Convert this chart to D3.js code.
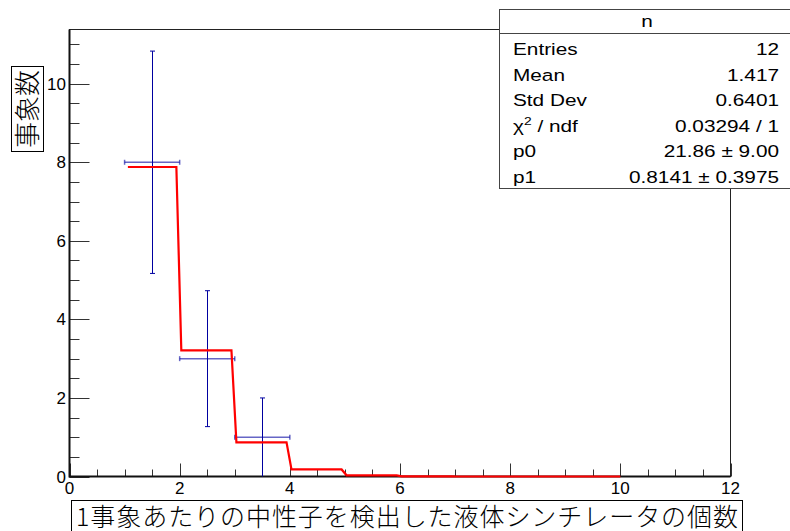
<!DOCTYPE html>
<html>
<head>
<meta charset="utf-8">
<script src="https://cdn.jsdelivr.net/npm/d3@7"></script>
<style>
  body { margin: 0; background: #fff; }
  svg { display: block; }
  text { font-family: "Liberation Sans", Arial, sans-serif; fill: #000; }
  .jp { font-family: "Noto Sans CJK JP", sans-serif; font-weight: 300; }
</style>
</head>
<body>
<svg id="chart" width="790" height="531"></svg>
<script>
// Histogram: bin centres, counts, errors (sqrt N)
const binCenters = [1.5, 2.5, 3.5];
const counts = [8, 3, 1];
const errors = [2.83, 1.73, 1.0];
const binHalfWidth = 0.5;

// Fit curve levels, one per unit step from x=1 to x=10
const fitStarts = [1, 2, 3, 4, 5, 6, 7, 8, 9];
const fitLevels = [7.88, 3.21, 0.87, 0.18, 0.03, 0.005, 0, 0, 0];

const xTicks = [0, 2, 4, 6, 8, 10, 12];
const yTicks = [0, 2, 4, 6, 8, 10];

const statLabels = ['Entries', 'Mean', 'Std Dev', 'chi', 'p0', 'p1'];
const statValues = ['12', '1.417', '0.6401', '0.03294 / 1', '21.86 \u00b1 9.00', '0.8141 \u00b1 0.3975'];

const xTitle = '1事象あたりの中性子を検出した液体シンチレータの個数';
const yTitle = '事象数';

const svg = d3.select('#chart');
const frame = { left: 69.5, right: 730.5, top: 29.5, bottom: 476.5 };

const x = d3.scaleLinear().domain([0, 12]).range([frame.left, frame.right]);
const y = d3.scaleLinear().domain([0, 11.38]).range([frame.bottom, frame.top]);

// Frame
svg.append('rect')
    .attr('x', frame.left).attr('y', frame.top)
    .attr('width', frame.right - frame.left)
    .attr('height', frame.bottom - frame.top)
    .attr('fill', 'none').attr('stroke', '#222').attr('stroke-width', 1);

// X axis ticks
const xAxis = svg.append('g');
xAxis.selectAll('.minor')
    .data(d3.range(0, 12.01, 0.5))
    .enter().append('line')
    .attr('x1', d => Math.round(x(d)) + 0.5).attr('x2', d => Math.round(x(d)) + 0.5)
    .attr('y1', frame.bottom)
    .attr('y2', d => frame.bottom - (d % 2 === 0 ? 13 : 7))
    .attr('stroke', '#333').attr('stroke-width', 1);
xAxis.selectAll('.lbl')
    .data(xTicks)
    .enter().append('text')
    .attr('x', d => x(d)).attr('y', 494)
    .attr('text-anchor', 'middle')
    .attr('font-size', 17)
    .text(d => d);

// Y axis ticks
const yAxis = svg.append('g');
yAxis.selectAll('.minor')
    .data(d3.range(0, 11.01, 0.5))
    .enter().append('line')
    .attr('x1', frame.left)
    .attr('x2', d => frame.left + (d % 2 === 0 ? 20 : 10))
    .attr('y1', d => Math.round(y(d)) + 0.5).attr('y2', d => Math.round(y(d)) + 0.5)
    .attr('stroke', '#333').attr('stroke-width', 1);
yAxis.selectAll('.lbl')
    .data(yTicks)
    .enter().append('text')
    .attr('x', 66).attr('y', d => y(d) + 6)
    .attr('text-anchor', 'end')
    .attr('font-size', 17)
    .text(d => d);

// Axis lines (thicker)
svg.append('line')
    .attr('x1', frame.left).attr('x2', frame.left)
    .attr('y1', frame.top).attr('y2', frame.bottom + 1)
    .attr('stroke', '#111').attr('stroke-width', 2);
svg.append('line')
    .attr('x1', frame.left).attr('x2', frame.right)
    .attr('y1', frame.bottom).attr('y2', frame.bottom)
    .attr('stroke', '#111').attr('stroke-width', 2);

// Histogram error bars
const blue = '#0000a0';
const hist = svg.append('g');
binCenters.forEach((c, i) => {
    const cx = Math.round(x(c)) + 0.5;
    const cy = y(counts[i]);
    const top = y(counts[i] + errors[i]);
    const bot = y(Math.max(0, counts[i] - errors[i]));
    hist.append('line')
        .attr('x1', cx).attr('x2', cx).attr('y1', top).attr('y2', bot)
        .attr('stroke', blue).attr('stroke-width', 1);
    [top, bot].forEach(v => {
        if (counts[i] - errors[i] <= 0 && v === bot) return;
        hist.append('line')
            .attr('x1', cx - 2.5).attr('x2', cx + 2.5).attr('y1', v).attr('y2', v)
            .attr('stroke', blue).attr('stroke-width', 1);
    });
    const xl = x(c - binHalfWidth), xr = x(c + binHalfWidth);
    hist.append('line')
        .attr('x1', xl).attr('x2', xr).attr('y1', cy).attr('y2', cy)
        .attr('stroke', blue).attr('stroke-width', 1.5).attr('stroke-opacity', 0.6);
    [xl, xr].forEach(v => {
        hist.append('line')
            .attr('x1', v).attr('x2', v).attr('y1', cy - 2.5).attr('y2', cy + 2.5)
            .attr('stroke', blue).attr('stroke-width', 1.5).attr('stroke-opacity', 0.6);
    });
});

// Fit curve (sampled step function)
const fitPts = [];
fitStarts.forEach((s, i) => {
    fitPts.push([i === 0 ? s + 0.06 : s + 0.03, fitLevels[i]]);
    fitPts.push([s + 1 - 0.06, fitLevels[i]]);
});
fitPts[fitPts.length - 1][0] = 10;
svg.append('path')
    .datum(fitPts)
    .attr('d', d3.line().x(d => x(d[0])).y(d => y(d[1])))
    .attr('fill', 'none').attr('stroke', '#ff0000').attr('stroke-width', 2.2)
    .attr('stroke-linejoin', 'miter');

// Y title box
svg.append('rect')
    .attr('x', 11.5).attr('y', 66.5).attr('width', 32).attr('height', 85)
    .attr('fill', '#fff').attr('stroke', '#000').attr('stroke-width', 1);
svg.append('text')
    .attr('class', 'jp')
    .attr('transform', 'translate(36.5,109) rotate(-90)')
    .attr('text-anchor', 'middle')
    .attr('font-size', 26)
    .text(yTitle);

// X title box
svg.append('rect')
    .attr('x', 71.5).attr('y', 500.5).attr('width', 671).attr('height', 40)
    .attr('fill', '#fff').attr('stroke', '#000').attr('stroke-width', 1);
svg.append('text')
    .attr('class', 'jp')
    .attr('x', 76).attr('y', 526)
    .attr('font-size', 25)
    .attr('textLength', 662)
    .text(xTitle);

// Stats box (text in the reference is drawn horizontally stretched)
const statScale = 1.26;
const statFont = 16.5;
const stats = svg.append('g');
stats.append('rect')
    .attr('x', 499.5).attr('y', 9.5).attr('width', 300).attr('height', 179)
    .attr('fill', '#fff').attr('stroke', '#444').attr('stroke-width', 1);
stats.append('line')
    .attr('x1', 499.5).attr('x2', 800).attr('y1', 33.5).attr('y2', 33.5)
    .attr('stroke', '#444').attr('stroke-width', 1);
stats.append('text')
    .attr('transform', `translate(647,27) scale(${statScale},1)`)
    .attr('text-anchor', 'middle').attr('font-size', statFont)
    .text('n');
statLabels.forEach((lab, i) => {
    const by = 55 + i * 25.5;
    const t = stats.append('text')
        .attr('transform', `translate(513,${by}) scale(${statScale},1)`)
        .attr('font-size', statFont);
    if (lab === 'chi') {
        t.append('tspan').text('\u03c7');
        t.append('tspan').attr('font-size', 11).attr('dy', -7).text('2');
        t.append('tspan').attr('dy', 7).text(' / ndf');
    } else {
        t.text(lab);
    }
    stats.append('text')
        .attr('transform', `translate(779,${by}) scale(${statScale},1)`)
        .attr('text-anchor', 'end').attr('font-size', statFont)
        .text(statValues[i]);
});
</script>
</body>
</html>
